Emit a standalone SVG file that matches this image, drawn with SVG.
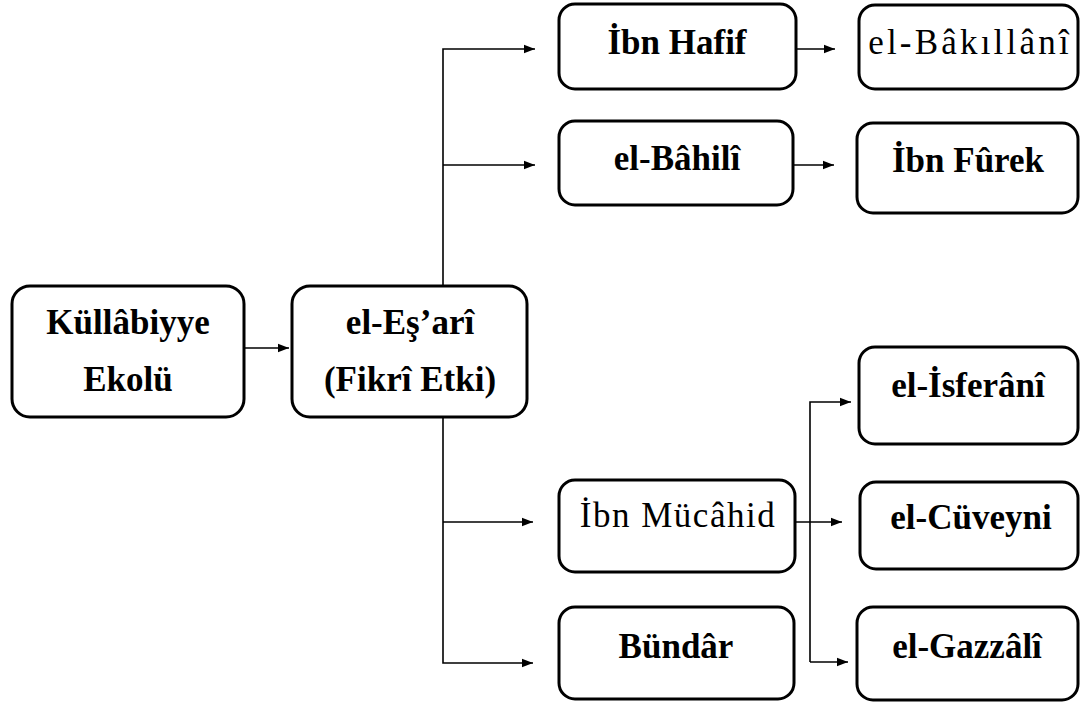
<svg xmlns="http://www.w3.org/2000/svg" width="1086" height="707" viewBox="0 0 1086 707">
  <style>
    .box { fill: #ffffff; stroke: #000000; stroke-width: 3; }
    .t { font-family: "Liberation Serif", "Times New Roman", serif; font-size: 35px; fill: #000000; text-anchor: middle; }
    .b { font-weight: bold; }
    .n { font-weight: normal; }
    .c { fill: none; stroke: #000000; stroke-width: 1.6; }
  </style>
  <defs>
    <marker id="ah" markerUnits="userSpaceOnUse" markerWidth="12" markerHeight="10" refX="11" refY="5" orient="auto">
      <path d="M0,0.8 L11,5 L0,9.2 Z" fill="#000000"/>
    </marker>
  </defs>
  <rect width="1086" height="707" fill="#ffffff"/>

  <g id="connectors">
    <path class="c" d="M245,348 H289" marker-end="url(#ah)"/>
    <path class="c" d="M443,286 V49 H535" marker-end="url(#ah)"/>
    <path class="c" d="M443,165 H535" marker-end="url(#ah)"/>
    <path class="c" d="M443,418 V663 H533" marker-end="url(#ah)"/>
    <path class="c" d="M443,522 H533" marker-end="url(#ah)"/>
    <path class="c" d="M797,49 H835" marker-end="url(#ah)"/>
    <path class="c" d="M794,165 H834" marker-end="url(#ah)"/>
    <path class="c" d="M796,522 H842" marker-end="url(#ah)"/>
    <path class="c" d="M810,662 V402 H851" marker-end="url(#ah)"/>
    <path class="c" d="M810,662 H848" marker-end="url(#ah)"/>
  </g>

  <g id="kullabiyye">
    <rect class="box" x="12" y="286" width="232" height="131" rx="18"/>
    <text class="t b" x="128" y="334">Küllâbiyye</text>
    <text class="t b" x="128" y="391">Ekolü</text>
  </g>
  <g id="eshari">
    <rect class="box" x="292" y="286" width="235" height="131" rx="18"/>
    <text class="t b" x="410" y="334">el-Eş’arî</text>
    <text class="t b" x="410" y="391">(Fikrî Etki)</text>
  </g>
  <g id="ibnhafif">
    <rect class="box" x="559" y="4" width="237" height="85" rx="16"/>
    <text class="t b" x="677" y="54">İbn Hafif</text>
  </g>
  <g id="bahili">
    <rect class="box" x="559" y="121" width="234" height="84" rx="16"/>
    <text class="t b" x="677" y="170">el-Bâhilî</text>
  </g>
  <g id="bakillani">
    <rect class="box" x="859" y="5" width="219" height="84" rx="16"/>
    <text class="t n" x="970" y="54" letter-spacing="3.2">el-Bâkıllânî</text>
  </g>
  <g id="ibnfurek">
    <rect class="box" x="857" y="123" width="221" height="90" rx="16"/>
    <text class="t b" x="968" y="172">İbn Fûrek</text>
  </g>
  <g id="isferani">
    <rect class="box" x="859" y="347" width="219" height="97" rx="16"/>
    <text class="t b" x="968" y="397">el-İsferânî</text>
  </g>
  <g id="mucahid">
    <rect class="box" x="559" y="480" width="236" height="92" rx="16"/>
    <text class="t n" x="678" y="527" letter-spacing="1.5">İbn Mücâhid</text>
  </g>
  <g id="cuveyni">
    <rect class="box" x="860" y="482" width="218" height="87" rx="16"/>
    <text class="t b" x="971" y="529">el-Cüveyni</text>
  </g>
  <g id="bundar">
    <rect class="box" x="559" y="607" width="235" height="92" rx="16"/>
    <text class="t b" x="676" y="658">Bündâr</text>
  </g>
  <g id="gazzali">
    <rect class="box" x="857" y="607" width="221" height="93" rx="16"/>
    <text class="t b" x="967" y="658">el-Gazzâlî</text>
  </g>
</svg>
